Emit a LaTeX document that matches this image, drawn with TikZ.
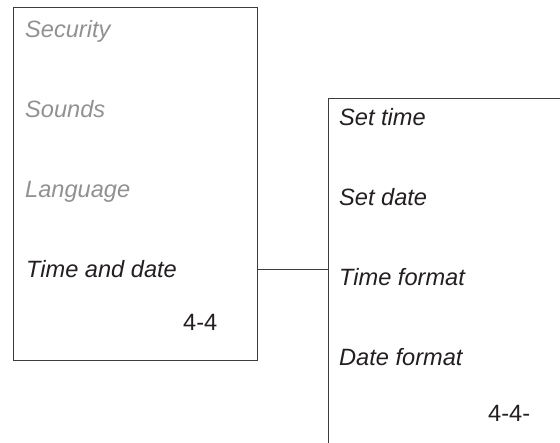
\documentclass[tikz,border=0pt]{standalone}
\usepackage{fontspec}
\setmainfont{Liberation Sans}
\definecolor{menuline}{RGB}{60,60,60}
\definecolor{menutext}{RGB}{35,31,32}
\definecolor{menugray}{RGB}{145,145,145}
\usetikzlibrary{positioning}
\tikzset{
  menubox/.style={draw=menuline, line width=1pt, inner sep=0pt, anchor=north west},
  item/.style={font=\fontsize{23.6pt}{28pt}\selectfont\itshape, text=menutext, inner sep=0pt, anchor=base west},
  dimitem/.style={item, text=menugray},
  pagenum/.style={font=\fontsize{23.6pt}{28pt}\selectfont, text=menutext, inner sep=0pt, anchor=base west},
  link/.style={draw=menuline, line width=1pt}
}

\begin{document}
\begin{tikzpicture}[x=1pt, y=-1pt]
    \useasboundingbox (0,0) rectangle (560,443);
    \clip (0,0) rectangle (560,443);

    % Settings menu
    \node[menubox, minimum width=244pt, minimum height=353pt] (menu) at (13,7) {};
    \node[dimitem] (security) at (25,38)  {Security};
    \node[dimitem] (sounds)   at (25,118) {Sounds};
    \node[dimitem] (language) at (25,198) {Language};
    \node[item]    (timedate) at (26,278) {Time and date};
    \node[pagenum] (menunum)  at (183,331) {4-4};

    % Time and date submenu (runs off the page)
    \node[menubox, minimum width=300pt, minimum height=400pt] (submenu) at (328,98) {};
    \node[item] (settime) at (339,126) {Set time};
    \node[item] (setdate) at (339,206) {Set date};
    \node[item] (timefmt) at (339,286) {Time format};
    \node[item] (datefmt) at (339,366) {Date format};
    \node[pagenum] (subnum) at (488,422) {4-4-};

    % Link
    \draw[link] (menu.east |- timedate.center) -- (submenu.west |- timedate.center);
\end{tikzpicture}
\end{document}
